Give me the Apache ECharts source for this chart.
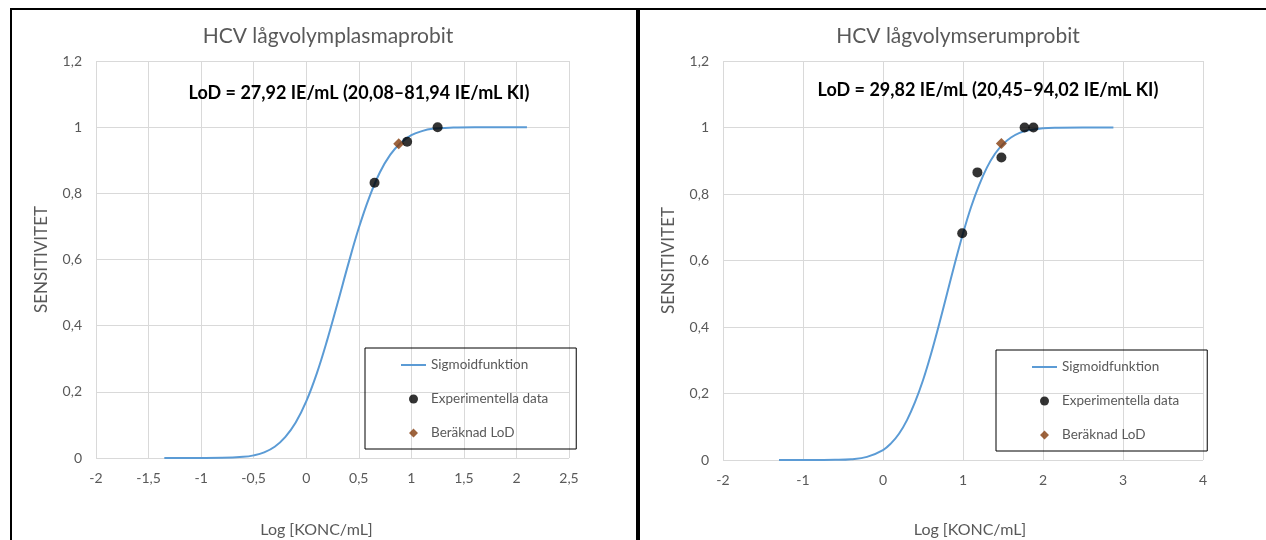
<!DOCTYPE html>
<html>
<head>
<meta charset="utf-8">
<script src="https://cdn.jsdelivr.net/npm/echarts@6/dist/echarts.min.js"></script>
<style>
  html, body { margin: 0; padding: 0; background: #fff; }
  #chart { width: 1266px; height: 540px; }
</style>
</head>
<body>
<div id="chart"></div>
<script>
// left panel: plasma
const plasmaTitle = 'HCV lågvolymplasmaprobit';
const plasmaLod = 'LoD = 27,92 IE/mL (20,08–81,94 IE/mL KI)';
const plasmaCurve = [
  [-1.35, 0], [-1.0, 0.0001], [-0.8, 0.0005], [-0.6, 0.0035], [-0.5, 0.008],
  [-0.4, 0.017], [-0.3, 0.034], [-0.2, 0.063], [-0.1, 0.107], [0, 0.171],
  [0.1, 0.255], [0.2, 0.357], [0.3, 0.47], [0.4, 0.586], [0.5, 0.695],
  [0.6, 0.788], [0.7, 0.863], [0.8, 0.917], [0.9, 0.953], [1.0, 0.976],
  [1.1, 0.988], [1.2, 0.995], [1.4, 0.999], [1.6, 1.0], [2.1, 1.0]
];
const plasmaPoints = [[0.65, 0.832], [0.96, 0.956], [1.25, 1.0]];
const plasmaLodPoint = [[0.88, 0.95]];

// right panel: serum
const serumTitle = 'HCV lågvolymserumprobit';
const serumLod = 'LoD = 29,82 IE/mL (20,45–94,02 IE/mL KI)';
const serumCurve = [
  [-1.3, 0], [-1.0, 0], [-0.8, 0.0001], [-0.6, 0.0005], [-0.4, 0.0024],
  [-0.2, 0.0094], [0, 0.03], [0.1, 0.05], [0.2, 0.079], [0.3, 0.12],
  [0.4, 0.174], [0.5, 0.24], [0.6, 0.319], [0.7, 0.407], [0.8, 0.5],
  [0.9, 0.593], [1.0, 0.681], [1.1, 0.76], [1.2, 0.826], [1.3, 0.88],
  [1.4, 0.921], [1.5, 0.95], [1.6, 0.97], [1.7, 0.983], [1.8, 0.991],
  [2.0, 0.998], [2.2, 0.9995], [2.5, 1.0], [2.88, 1.0]
];
const serumPoints = [[0, -0.003], [0.99, 0.682], [1.18, 0.865], [1.48, 0.91], [1.77, 1.0], [1.88, 1.0]];
const serumLodPoint = [[1.48, 0.952]];

const seriesNames = ['Sigmoidfunktion', 'Experimentella data', 'Beräknad LoD'];

const FONT = 'Lato, "Open Sans", sans-serif';
const GREY = '#595959';
const GRID = '#d9d9d9';

// diamond centred in a 25x9 box so the legend does not stretch it
const DIAMOND_ICON = 'path://M0,0 L0.01,0 L0,0.01 Z M25,9 L24.99,9 L25,8.99 Z M8,4.5 L12.5,0 L17,4.5 L12.5,9 Z';

const comma = v => String(v).replace('.', ',');

const chart = echarts.init(document.getElementById('chart'));

const makeX = (idx, min, max, interval, gap, pad) => ({
  type: 'value', gridIndex: idx, min: min, max: max, interval: interval,
  name: 'Log [KONC/mL]', nameLocation: 'middle', nameGap: gap,
  nameTextStyle: { color: GREY, fontSize: 16, fontFamily: FONT, padding: pad },
  axisLine: { show: false }, axisTick: { show: false },
  axisLabel: { color: GREY, fontSize: 14, fontFamily: FONT, margin: 13, formatter: comma },
  splitLine: { show: true, lineStyle: { color: GRID, width: 1 } }
});

const makeY = idx => ({
  type: 'value', gridIndex: idx, min: 0, max: 1.2, interval: 0.2,
  name: 'SENSITIVITET', nameLocation: 'middle', nameGap: 46,
  nameTextStyle: { color: GREY, fontSize: 17, fontFamily: FONT },
  axisLine: { show: false }, axisTick: { show: false },
  axisLabel: { color: GREY, fontSize: 14, fontFamily: FONT, margin: 14, formatter: comma },
  splitLine: { show: true, lineStyle: { color: GRID, width: 1 } }
});

const makeSeries = (idx, curve, points, lod) => [
  {
    name: seriesNames[0], type: 'line', xAxisIndex: idx, yAxisIndex: idx,
    data: curve, smooth: 0.4, symbol: 'none',
    lineStyle: { color: '#5b9bd5', width: 2 }, itemStyle: { color: '#5b9bd5' }, z: 2
  },
  {
    name: seriesNames[1], type: 'scatter', xAxisIndex: idx, yAxisIndex: idx,
    data: points, symbol: 'circle', symbolSize: 10,
    itemStyle: { color: '#000' }, z: 4
  },
  {
    name: seriesNames[2], type: 'scatter', xAxisIndex: idx, yAxisIndex: idx,
    data: lod, symbol: 'diamond', symbolSize: 11,
    itemStyle: { color: '#843c0c' }, z: 3
  }
];

const makeLegend = (left, top) => ({
  left: left, top: top, orient: 'vertical',
  data: [
    { name: seriesNames[0], itemStyle: { opacity: 0 } },
    { name: seriesNames[1] },
    { name: seriesNames[2], icon: DIAMOND_ICON }
  ],
  itemWidth: 25, itemHeight: 9, itemGap: 20,
  padding: [10, 28, 9, 35],
  borderColor: '#000', borderWidth: 1,
  textStyle: { color: GREY, fontSize: 13.5, fontFamily: FONT },
  selectedMode: false
});

const option = {
  animation: false,
  textStyle: { fontFamily: FONT },
  title: [
    { text: plasmaTitle, left: 323, top: 21, textAlign: 'center',
      textStyle: { color: GREY, fontSize: 21, fontWeight: 'normal', fontFamily: FONT } },
    { text: serumTitle, left: 953, top: 21, textAlign: 'center',
      textStyle: { color: GREY, fontSize: 21, fontWeight: 'normal', fontFamily: FONT } },
    { text: plasmaLod, left: 354, top: 79, textAlign: 'center',
      textStyle: { color: '#000', fontSize: 18, fontWeight: 'bold', fontFamily: FONT } },
    { text: serumLod, left: 983, top: 76, textAlign: 'center',
      textStyle: { color: '#000', fontSize: 18, fontWeight: 'bold', fontFamily: FONT } }
  ],
  legend: [
    makeLegend(365, 348),
    makeLegend(996, 350)
  ],
  grid: [
    { left: 96, top: 61, width: 473, height: 397, outerBoundsMode: 'none' },
    { left: 723, top: 61, width: 480, height: 399, outerBoundsMode: 'none' }
  ],
  xAxis: [makeX(0, -2, 2.5, 0.5, 64, [0, 32, 0, 0]), makeX(1, -2, 4, 1, 62, [0, 0, 0, 14])],
  yAxis: [makeY(0), makeY(1)],
  series: [
    ...makeSeries(0, plasmaCurve, plasmaPoints, plasmaLodPoint),
    ...makeSeries(1, serumCurve, serumPoints, serumLodPoint)
  ],
  graphic: [
    { type: 'rect', shape: { x: 11, y: 9, width: 626, height: 540 },
      style: { fill: 'none', stroke: '#000', lineWidth: 2 }, silent: true },
    { type: 'polyline', shape: { points: [[639, 545], [639, 9], [1270, 9]] },
      style: { fill: 'none', stroke: '#000', lineWidth: 2 }, silent: true }
  ]
};

chart.setOption(option);
</script>
</body>
</html>
